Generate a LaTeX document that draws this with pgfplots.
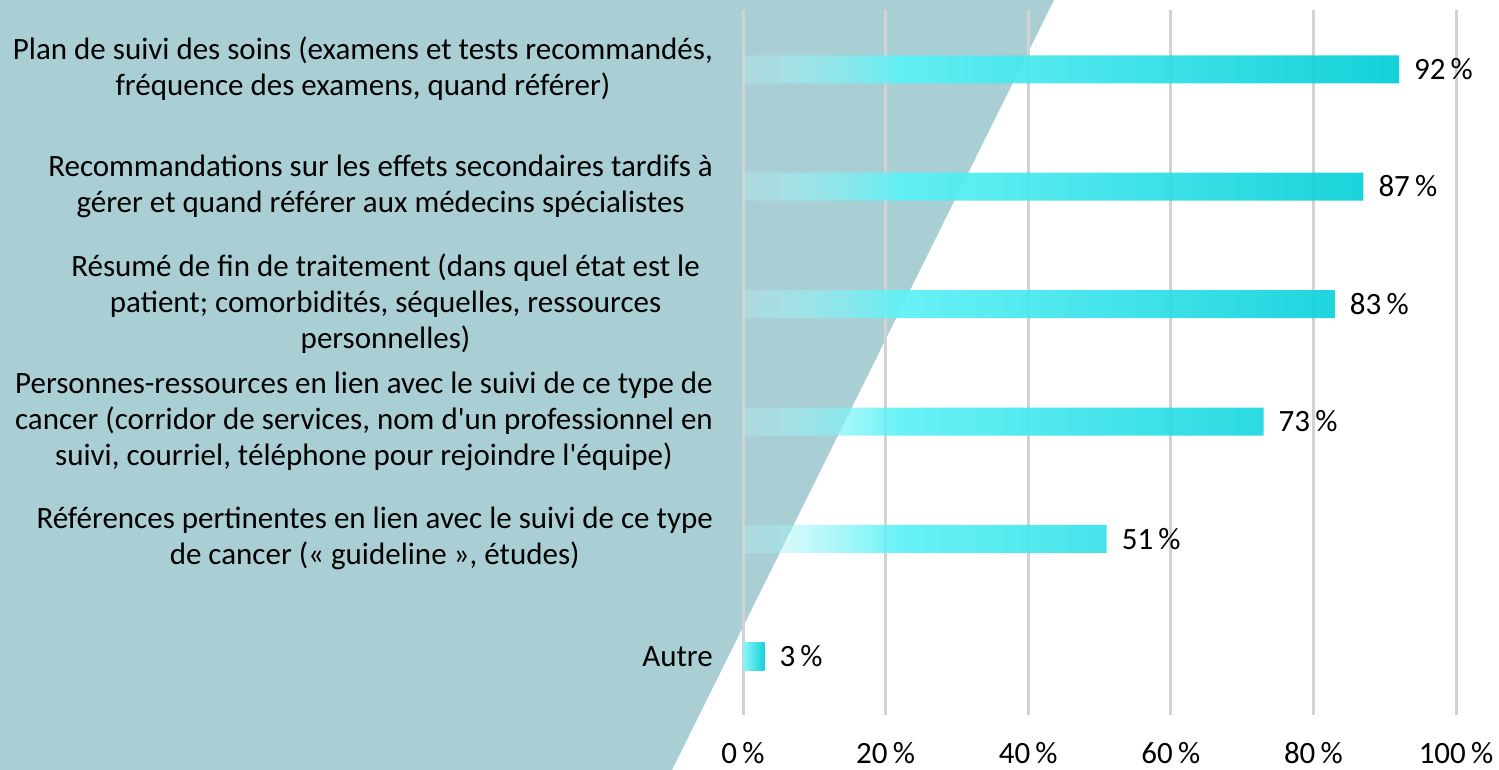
\documentclass[border=0pt]{standalone}
\usepackage{pgfplots}
\pgfplotsset{compat=1.18}
\usepackage{fontspec}
\setmainfont{Carlito}[Ligatures=TeXOff]
\usetikzlibrary{fadings}
\definecolor{bgteal}{HTML}{A9CFD4}
\definecolor{cA}{HTML}{B8F4F7}
\definecolor{cB}{HTML}{5CF1F6}
\definecolor{cC}{HTML}{00CDD6}
\definecolor{gridc}{HTML}{D2D2D2}
\pgfdeclarehorizontalshading{barshade}{100bp}{color(0bp)=(cA); color(25bp)=(cA); color(37bp)=(cB); color(75bp)=(cC); color(100bp)=(cC)}
\begin{tikzfadingfrompicture}[name=barfade]
\fill[transparent!72] (-50bp,-50bp) rectangle (-25bp,50bp);
\shade[left color=transparent!72, right color=transparent!0] (-25.2bp,-50bp) rectangle (-13bp,50bp);
\fill[transparent!0] (-13.3bp,-50bp) rectangle (50bp,50bp);
\end{tikzfadingfrompicture}
\newcommand\lf{\fontsize{31pt}{36pt}\selectfont}
\begin{document}
\begin{tikzpicture}[x=1pt,y=1pt]
\fill[bgteal] (0,0) -- (0,770) -- (1054,770) -- (672,0) -- cycle;
\begin{axis}[
 at={(743pt,55pt)}, anchor=south west,
 scale only axis, width=713pt, height=705pt,
 xmin=0, xmax=100, ymin=-0.5, ymax=5.5,
 axis line style={draw=none},
 major tick length=0pt,
 xtick={0,20,...,100},
 xticklabels={0\,\%,20\,\%,40\,\%,60\,\%,80\,\%,100\,\%},
 xmajorgrids, grid style={draw=gridc, line width=3pt},
 ytick={0,...,5},
 yticklabels={
  {Autre},
  {Références pertinentes en lien avec le suivi de ce type\\de cancer (« guideline », études)},
  {Personnes-ressources en lien avec le suivi de ce type de\\cancer (corridor de services, nom d'un professionnel en\\suivi, courriel, téléphone pour rejoindre l'équipe)},
  {Résumé de fin de traitement (dans quel état est le\rule{13pt}{0pt}\\patient; comorbidités, séquelles, ressources\rule{13pt}{0pt}\\personnelles)\rule{13pt}{0pt}},
  {Recommandations sur les effets secondaires tardifs à\\gérer et quand référer aux médecins spécialistes},
  {Plan de suivi des soins (examens et tests recommandés,\\fréquence des examens, quand référer)}
 },
 xticklabel style={font=\lf, anchor=base, inner sep=0pt, yshift=-49pt},
 yticklabel style={font=\lf, align=center, anchor=east, inner sep=0pt, xshift=-30pt},
 /pgf/number format/assume math mode=true,
 clip=false,
]
\addplot[xbar, bar width=28pt, draw=none, shading=barshade, path fading=barfade, fill opacity=0.92] coordinates {(51,1) (73,2) (83,3) (87,4) (92,5)};
\addplot[xbar, bar width=28pt, draw=none, left color=cB!75!white, right color=cC, fill opacity=0.92] coordinates {(3,0)};
\addplot[draw=none, mark=none, point meta=x,
 nodes near coords={\pgfmathprintnumber{\pgfplotspointmeta}\,\%},
 every node near coord/.append style={font=\lf, text=black, anchor=west, inner sep=0pt, xshift=15pt}]
 coordinates {(3,0) (51,1) (73,2) (83,3) (87,4) (92,5)};
\end{axis}
\pgfresetboundingbox
\useasboundingbox (0,0) rectangle (1499,770);
\end{tikzpicture}
\end{document}
